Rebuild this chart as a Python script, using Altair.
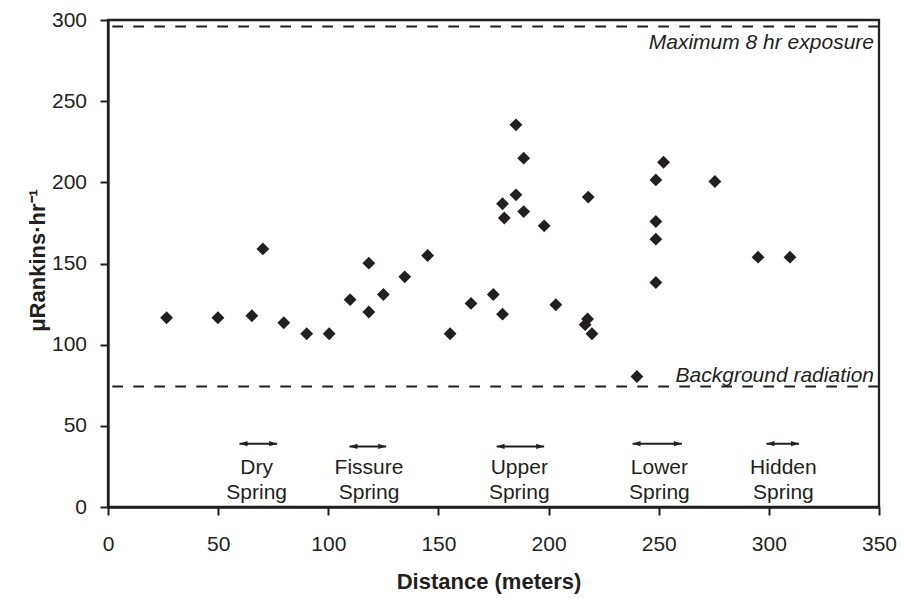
import altair as alt
import pandas as pd

# ---- data ----
distance = [26.6, 49.9, 65.3, 79.8, 90.2, 100.4, 70.3, 109.9, 118.4, 118.4,
            125.0, 134.7, 145.1, 155.3, 164.8, 174.9, 179.1, 203.3, 217.7, 216.6,
            219.7, 248.7, 240.1, 295.1, 309.6, 185.2, 188.7, 185.2, 179.1, 179.9,
            188.7, 198.0, 218.0, 252.2, 248.7, 275.5, 248.7, 248.7]
dose = [116.6, 116.6, 117.8, 113.5, 106.7, 106.7, 159.0, 127.7, 120.1, 150.2,
        130.9, 141.8, 154.9, 106.7, 125.4, 130.9, 118.8, 124.6, 115.8, 112.3,
        106.7, 138.3, 80.4, 153.9, 153.9, 235.4, 214.9, 192.3, 186.8, 178.0,
        182.0, 173.2, 190.9, 212.4, 201.5, 200.5, 175.9, 165.0]

ref_levels = [296, 74.3]
ref_labels = ["Maximum 8 hr exposure", "Background radiation"]
ref_label_y = [282, 77.3]

spring_line1 = ["Dry", "Fissure", "Upper", "Lower", "Hidden"]
spring_line2 = ["Spring", "Spring", "Spring", "Spring", "Spring"]
spring_center = [67.5, 118.5, 186.7, 250.3, 306.6]
arrow_start = [59.7, 109.6, 176.4, 238.1, 298.9]
arrow_end = [76.8, 126.3, 198.0, 260.5, 313.7]
arrow_level = [39.0, 37.3, 37.3, 39.0, 39.0]

x_ticks = [0, 50, 100, 150, 200, 250, 300, 350]
y_ticks = [0, 50, 100, 150, 200, 250, 300]

INK = "#231f20"
FONT = "Liberation Sans"

pts = pd.DataFrame({"d": distance, "r": dose})
refs = pd.DataFrame({"level": ref_levels, "label": ref_labels, "ly": ref_label_y})
springs = pd.DataFrame({
    "l1": spring_line1, "l2": spring_line2, "cx": spring_center,
    "a0": arrow_start, "a1": arrow_end, "ay": arrow_level,
})

xscale = alt.Scale(domain=[0, 350], nice=False, zero=False)
yscale = alt.Scale(domain=[0, 300], nice=False, zero=False)

points = alt.Chart(pts).mark_point(
    shape="diamond", filled=True, size=165, color=INK, opacity=1
).encode(
    x=alt.X("d:Q", scale=xscale,
            axis=alt.Axis(values=x_ticks, title="Distance (meters)",
                          titleX=380.5, titleY=81.7, titleBaseline="alphabetic",
                          titleAlign="center", labelPadding=18, labelFlush=False)),
    y=alt.Y("r:Q", scale=yscale,
            axis=alt.Axis(values=y_ticks, title="μRankins·hr⁻¹",
                          titleX=-63.3, titleY=240, titleAngle=270,
                          titleBaseline="alphabetic", titleAlign="center",
                          labelPadding=13.5, labelFlush=False)),
)

rules = alt.Chart(refs).mark_rule(
    strokeDash=[10.7, 10.3], strokeWidth=2, color=INK
).encode(y=alt.Y("level:Q", scale=yscale))

ref_text = alt.Chart(refs).mark_text(
    align="right", baseline="alphabetic", font=FONT, fontStyle="italic",
    fontSize=21, color=INK, dx=-5
).encode(x=alt.XDatum(350, type="quantitative"), y=alt.Y("ly:Q", scale=yscale),
         text="label:N")

shaft = alt.Chart(springs).mark_rule(strokeWidth=2, color=INK).encode(
    x=alt.X("a0:Q", scale=xscale), x2="a1:Q", y=alt.Y("ay:Q", scale=yscale)
)
head_r = alt.Chart(springs).mark_point(
    shape="M0,0L-2,-0.65L-2,0.65Z", filled=True, size=64, color=INK, opacity=1
).encode(x=alt.X("a1:Q", scale=xscale), y=alt.Y("ay:Q", scale=yscale))
head_l = alt.Chart(springs).mark_point(
    shape="M0,0L2,-0.65L2,0.65Z", filled=True, size=64, color=INK, opacity=1
).encode(x=alt.X("a0:Q", scale=xscale), y=alt.Y("ay:Q", scale=yscale))

lab1 = alt.Chart(springs).mark_text(
    align="center", baseline="alphabetic", font=FONT, fontSize=21, color=INK
).encode(x=alt.X("cx:Q", scale=xscale), y=alt.YDatum(20.5, type="quantitative"),
         text="l1:N")
lab2 = alt.Chart(springs).mark_text(
    align="center", baseline="alphabetic", font=FONT, fontSize=21, color=INK
).encode(x=alt.X("cx:Q", scale=xscale), y=alt.YDatum(4.9, type="quantitative"),
         text="l2:N")

chart = alt.layer(rules, ref_text, shaft, head_l, head_r, lab1, lab2, points).properties(
    width=771, height=487,
    autosize=alt.AutoSizeParams(type="none"),
    padding={"left": 108, "top": 20, "right": 23, "bottom": 91},
    background="white",
).configure_view(
    stroke=INK, strokeWidth=2.3
).configure_axis(
    grid=False, domainColor=INK, domainWidth=2.3, tickColor=INK, tickWidth=2,
    tickSize=8, labelFont=FONT, labelFontSize=21, labelColor=INK,
    titleFont=FONT, titleFontSize=22, titleFontWeight="bold", titleColor=INK,
)

chart.save("out.html", embed_options={"renderer": "svg", "actions": False})
